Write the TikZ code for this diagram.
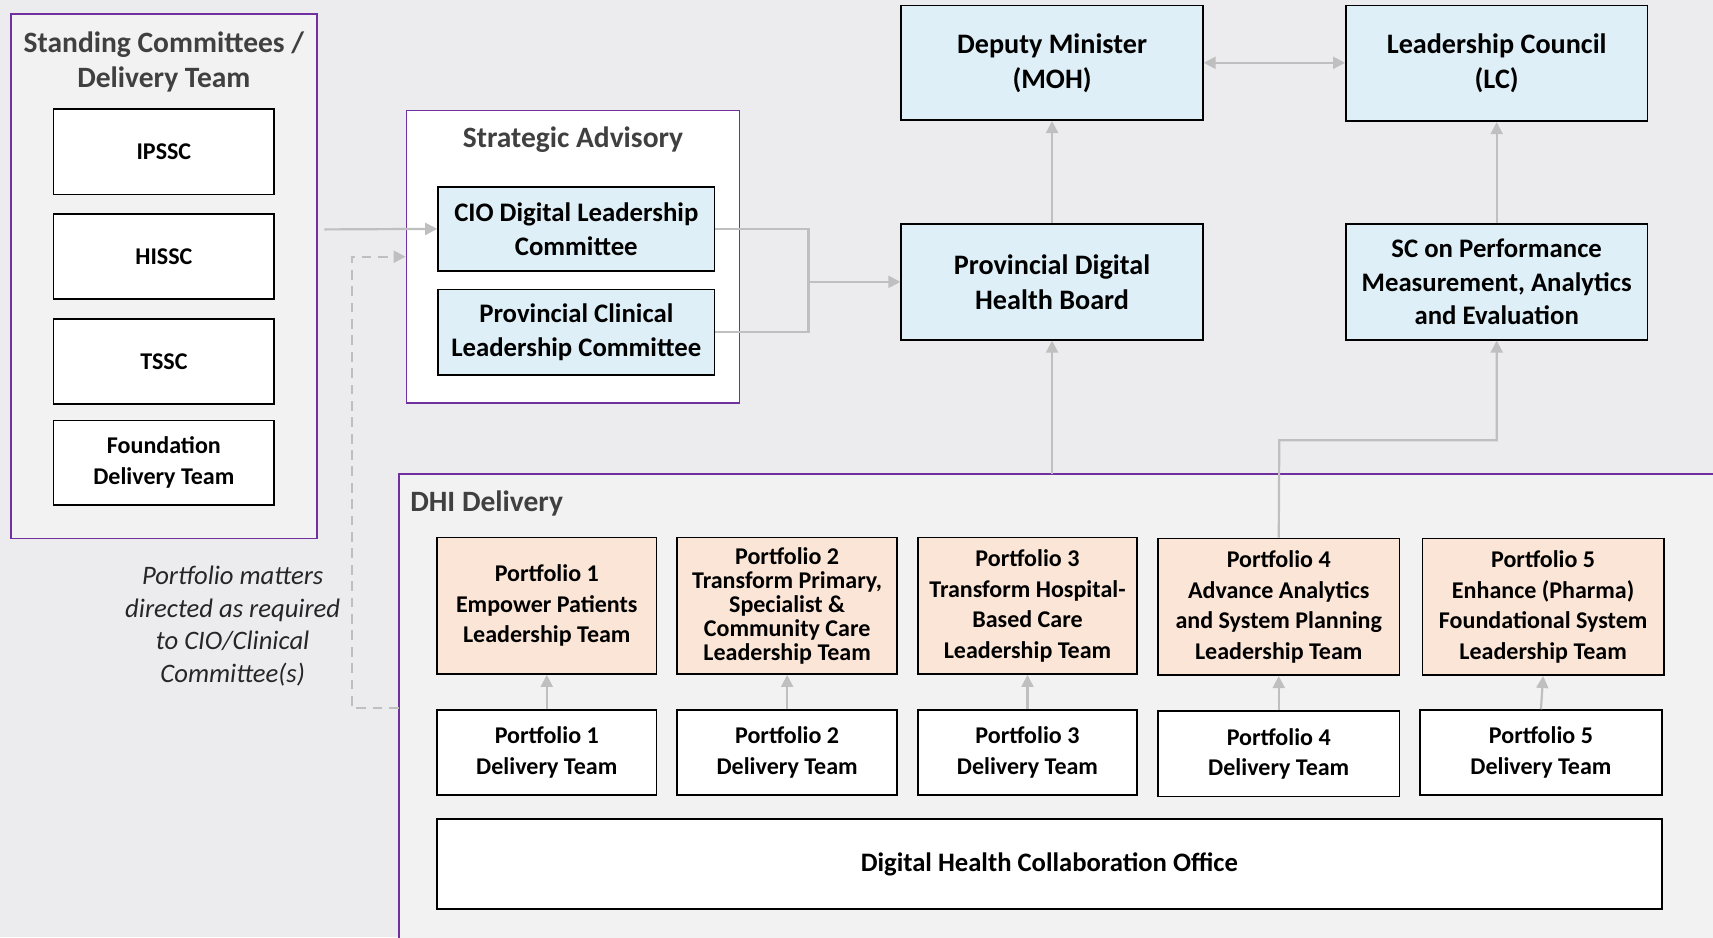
\documentclass[tikz,border=0pt]{standalone}
\usepackage{fontspec}
\setmainfont{Carlito}
\usetikzlibrary{arrows.meta}
\definecolor{bg}{RGB}{236,236,239}
\definecolor{panel}{RGB}{242,242,242}
\definecolor{purp}{RGB}{112,48,160}
\definecolor{lblue}{RGB}{222,239,247}
\definecolor{peach}{RGB}{251,229,214}
\definecolor{conn}{RGB}{191,191,191}
\definecolor{ttl}{RGB}{64,64,64}
\definecolor{note}{RGB}{38,38,38}
\begin{document}
\begin{tikzpicture}[x=1pt,y=-1pt,
  box/.style={draw=black, line width=1.6pt, inner sep=0pt, align=center,
    font=\bfseries\fontsize{22}{28}\selectfont},
  wbox/.style={box, fill=white},
  bbox/.style={box, fill=lblue, font=\bfseries\fontsize{24.5}{31}\selectfont},
  pbox/.style={box, fill=peach},
  group/.style={draw=purp, line width=1.4pt, inner sep=0pt},
  gtitle/.style={text=ttl, align=center, font=\bfseries\fontsize{27}{32}\selectfont},
  arr/.style={draw=conn, line width=2pt, -{Triangle[length=11pt,width=11pt]}},
  line/.style={draw=conn, line width=2pt},
  dline/.style={draw=conn, line width=2pt, dash pattern=on 9pt off 6pt},
  wh/.style 2 args={minimum width=#1, minimum height=#2}
]
\useasboundingbox (0,0) rectangle (1568,858);
\clip (0,0) rectangle (1568,858);
\fill[bg] (0,0) rectangle (1568,858);

% Standing committees
\node[group, fill=panel, wh={280}{480}] (stand) at (150,253) {};
\node[gtitle] (standt) at (150,57) {Standing Committees /\\Delivery Team};
\node[wbox, wh={202}{78}] (ipssc) at (150,139) {IPSSC};
\node[wbox, wh={202}{78}] (hissc) at (150,235) {HISSC};
\node[wbox, wh={202}{78}] (tssc) at (150,331) {TSSC};
\node[wbox, wh={202}{77}] (fdt) at (150,423.5) {Foundation\\Delivery Team};

% Strategic advisory
\node[group, fill=white, wh={305}{268}] (strat) at (524.5,235) {};
\node[gtitle] (stratt) at (524.5,128) {Strategic Advisory};
\node[bbox, wh={253}{77}] (cio) at (527.5,209.5) {CIO Digital Leadership\\Committee};
\node[bbox, wh={253}{78}] (pclc) at (527.5,304) {Provincial Clinical\\Leadership Committee};

% Top governance
\node[bbox, wh={276}{105}, font=\bfseries\fontsize{25.8}{32}\selectfont] (dm) at (963,57.5) {Deputy Minister\\(MOH)};
\node[bbox, wh={276}{106}, font=\bfseries\fontsize{25.8}{32}\selectfont] (lc) at (1370,58) {Leadership Council\\(LC)};
\node[bbox, wh={276}{106}, font=\bfseries\fontsize{25.8}{32}\selectfont] (pdhb) at (963,258) {Provincial Digital\\Health Board};
\node[bbox, wh={276}{106}] (sc) at (1370,258) {SC on Performance\\Measurement, Analytics\\and Evaluation};

% DHI delivery
\node[group, fill=panel, wh={1260}{480}] (dhi) at (995,674) {};
\node[gtitle, anchor=west] (dhit) at (372,461) {DHI Delivery};

\node[pbox, wh={201}{125}] (p1l) at (500.5,554.5) {Portfolio 1\\Empower Patients\\Leadership Team};
\node[pbox, wh={201}{125}, font=\bfseries\fontsize{22}{22}\selectfont] (p2l) at (720.5,554.5) {Portfolio 2\\Transform Primary,\\Specialist \&\\Community Care\\Leadership Team};
\node[pbox, wh={201}{125}] (p3l) at (940.5,554.5) {Portfolio 3\\Transform Hospital-\\Based Care\\Leadership Team};
\node[pbox, wh={221}{125}] (p4l) at (1170.5,555.5) {Portfolio 4\\Advance Analytics\\and System Planning\\Leadership Team};
\node[pbox, wh={221}{125}] (p5l) at (1412.5,555.5) {Portfolio 5\\Enhance (Pharma)\\Foundational System\\Leadership Team};

\node[wbox, wh={201}{78}] (p1d) at (500.5,689) {Portfolio 1\\Delivery Team};
\node[wbox, wh={201}{78}] (p2d) at (720.5,689) {Portfolio 2\\Delivery Team};
\node[wbox, wh={201}{78}] (p3d) at (940.5,689) {Portfolio 3\\Delivery Team};
\node[wbox, wh={221}{78}] (p4d) at (1170.5,690) {Portfolio 4\\Delivery Team};
\node[wbox, wh={221}{78}] (p5d) at (1410.5,689) {Portfolio 5\\Delivery Team};

\node[wbox, wh={1121}{82}, font=\bfseries\fontsize{24.4}{28}\selectfont] (dhco) at (960.5,791) {Digital Health Collaboration Office};

% note
\node[align=center, text=note, font=\itshape\fontsize{24.4}{30}\selectfont] (note) at (213,573) {Portfolio matters\\directed as required\\to CIO/Clinical\\Committee(s)};

% connectors
\coordinate (sout) at (297,210);
\draw[arr] (sout) -- (cio.west);
\coordinate (dstart) at (365,648);
\coordinate (dc1) at (322,648);
\coordinate (dc2) at (322,235);
\draw[dline, -{Triangle[length=11pt,width=11pt]}] (dstart) -- (dc1) -- (dc2) -- (strat.west |- dc2);
\coordinate (j) at (740,258);
\draw[line] (cio.east) -| (j) |- (pclc.east);
\draw[arr] (j) -- (pdhb.west);
\draw[arr] (pdhb.north) -- (dm.south);
\draw[arr] (sc.north) -- (lc.south);
\draw[draw=conn, line width=2pt, {Triangle[length=11pt,width=11pt]}-{Triangle[length=11pt,width=11pt]}] (dm.east) -- (lc.west |- dm.east);
\coordinate (dhitop) at (963,434);
\draw[arr] (dhitop) -- (pdhb.south);
\coordinate (bend) at (1171,403);
\draw[arr] (p4l.north) -- (bend) -| (sc.south);
\draw[arr] (p1d.north) -- (p1l.south);
\draw[arr] (p2d.north) -- (p2l.south);
\draw[arr] (p3d.north) -- (p3l.south);
\draw[arr] (p4d.north) -- (p4l.south);
\draw[arr] (p5d.north) -- (p5l.south);
\end{tikzpicture}
\end{document}
